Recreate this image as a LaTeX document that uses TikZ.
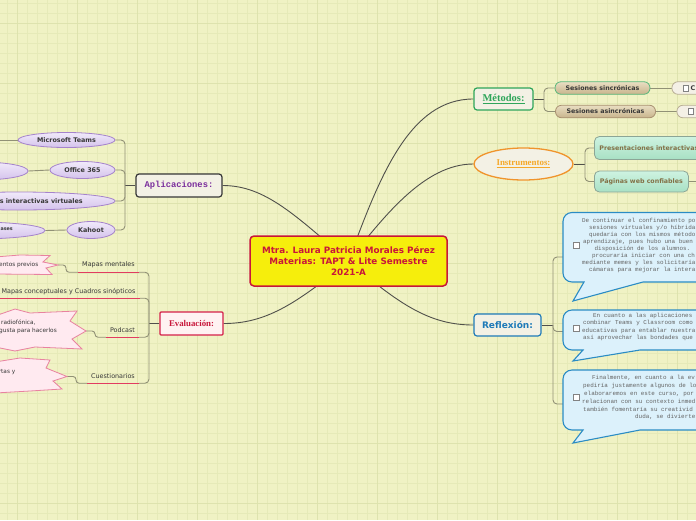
\documentclass[tikz,border=0pt]{standalone}
\usepackage{fontspec}
\setmainfont{Liberation Serif}
\newfontfamily\dv{DejaVu Sans}
\newfontfamily\lmono{Liberation Mono}
\usetikzlibrary{shapes.geometric}
\pgfdeclarelayer{gridl}
\pgfdeclarelayer{conl}
\pgfsetlayers{gridl,conl,main}
\definecolor{bgc}{RGB}{240,242,196}
\definecolor{gmin}{RGB}{230,234,184}
\definecolor{gmaj}{RGB}{222,227,174}
\definecolor{crim}{RGB}{200,22,58}
\definecolor{rootfill}{RGB}{246,238,12}
\definecolor{panel}{RGB}{243,241,229}
\definecolor{metgreen}{RGB}{46,165,90}
\definecolor{insor}{RGB}{240,148,44}
\definecolor{instext}{RGB}{245,168,40}
\definecolor{refblue}{RGB}{30,122,184}
\definecolor{apppurple}{RGB}{122,46,156}
\definecolor{evred}{RGB}{212,32,74}
\definecolor{evfill}{RGB}{255,242,242}
\definecolor{mconn}{RGB}{80,80,75}
\definecolor{sconn}{RGB}{145,145,118}
\definecolor{lavtop}{RGB}{241,234,250}
\definecolor{lavbot}{RGB}{212,194,236}
\definecolor{lavdraw}{RGB}{165,131,204}
\definecolor{tantop}{RGB}{233,222,194}
\definecolor{tanbot}{RGB}{200,180,140}
\definecolor{tandraw}{RGB}{168,144,112}
\definecolor{mintop}{RGB}{206,243,225}
\definecolor{minbot}{RGB}{168,224,196}
\definecolor{mindraw}{RGB}{140,165,150}
\definecolor{minttext}{RGB}{130,112,70}
\definecolor{pinkfill}{RGB}{255,234,240}
\definecolor{pinkdraw}{RGB}{232,130,160}
\definecolor{calfill}{RGB}{220,241,251}
\definecolor{caldraw}{RGB}{43,140,196}
\definecolor{caltext}{RGB}{100,100,100}
\definecolor{under}{RGB}{226,60,96}
\definecolor{darktext}{RGB}{55,55,55}
\definecolor{chkdraw}{RGB}{130,130,130}
\definecolor{boxfill}{RGB}{244,240,230}
\definecolor{boxdraw}{RGB}{184,174,148}
\tikzset{
  rootbox/.style={draw=crim, line width=1.5pt, fill=rootfill, rounded corners=4pt,
    minimum width=197pt, minimum height=50pt, align=center, text=crim,
    font=\dv\bfseries\fontsize{8.8}{11}\selectfont, inner sep=2pt},
  topic/.style={fill=panel, rounded corners=3pt, line width=1.2pt, minimum height=22pt, inner sep=1pt},
  pill/.style={rounded corners=6pt, top color=tantop, bottom color=tanbot, line width=0.8pt,
    minimum height=12.5pt, inner sep=1pt, font=\dv\bfseries\fontsize{6.3}{7}\selectfont, text=darktext},
  chbox/.style={rounded corners=6pt, fill=boxfill, draw=boxdraw, line width=0.8pt, minimum height=12.5pt, inner sep=0pt},
  chk/.style={draw=chkdraw, fill=white, line width=0.6pt},
  mint/.style={rounded corners=5pt, top color=mintop, bottom color=minbot, draw=mindraw, line width=0.8pt,
    inner xsep=5pt, inner ysep=1pt, align=left, text=minttext, font=\dv\bfseries\fontsize{6.3}{7}\selectfont},
  lav/.style={ellipse, top color=lavtop, bottom color=lavbot, draw=lavdraw, line width=0.8pt, inner sep=0pt,
    text=darktext, font=\dv\bfseries\fontsize{6.4}{7}\selectfont},
  lavtxt/.style={inner sep=0pt, text=darktext, font=\dv\bfseries\fontsize{6.4}{7}\selectfont},
  evt/.style={inner sep=0pt, minimum height=13pt, text=darktext, font=\dv\fontsize{6.4}{7}\selectfont},
  underl/.style={draw=under, line width=1pt},
  burst/.style={fill=pinkfill, draw=pinkdraw, line width=0.8pt},
  btxt/.style={inner sep=0pt, text=darktext, font=\dv\fontsize{5.8}{6}\selectfont},
  callout/.style={fill=calfill, draw=caldraw, line width=1.1pt},
  ct/.style={inner sep=0pt, anchor=west, text=caltext, font=\lmono\fontsize{5.9}{7}\selectfont},
  mainc/.style={draw=mconn, line width=0.9pt},
  subc/.style={draw=sconn, line width=0.9pt, rounded corners=4pt}
}
\begin{document}
\begin{tikzpicture}[x=1pt,y=-1pt]
\useasboundingbox (0,0) rectangle (696,520);
\begin{pgfonlayer}{gridl}
\fill[bgc] (0,0) rectangle (696,520);
\foreach \i in {0,...,69} \draw[gmin, line width=0.8pt] ({7.3+10*\i},0) -- ++(0,520);
\foreach \i in {0,...,51} \draw[gmin, line width=0.8pt] (0,{3.3+10*\i}) -- ++(696,0);
\foreach \i in {0,...,11} \draw[gmaj, line width=1.1pt] ({17.3+60*\i},0) -- ++(0,520);
\foreach \i in {0,...,8} \draw[gmaj, line width=1.1pt] (0,{23.3+60*\i}) -- ++(696,0);
\end{pgfonlayer}

% root
\node[rootbox] (root) at (348.5,261) {Mtra. Laura Patricia Morales Pérez\\Materias: TAPT \& Lite Semestre\\2021-A};

% Metodos
\node[topic, draw=metgreen, minimum width=59pt, text=metgreen, font=\bfseries\fontsize{10.5}{12}\selectfont] (met) at (503.5,99) {\underline{Métodos:}};
\node[pill, draw=metgreen!80, minimum width=95pt] (s1) at (602.5,88) {Sesiones sincrónicas};
\node[pill, draw=tandraw, minimum width=100pt] (s2) at (605.5,111.5) {Sesiones asincrónicas};
\node[chbox, anchor=west, minimum width=40pt] (sc1) at (671.5,88) {};
\node[chbox, anchor=west, minimum width=40pt] (sc2) at (676.5,111.5) {};
\draw[chk] (683.5,85) rectangle (688.5,91);
\node[inner sep=0pt, anchor=west, text=darktext, font=\dv\bfseries\fontsize{6.4}{7}\selectfont] (sc1t) at (690.5,88) {C};
\draw[chk] (688.5,108.5) rectangle (693.5,114.5);

% Instrumentos
\node[ellipse, fill=panel, draw=insor, line width=1.3pt, minimum width=99pt, minimum height=32pt, inner sep=0pt,
  text=instext, font=\bfseries\fontsize{8.9}{10}\selectfont] (ins) at (523.5,164) {\underline{Instrumentos:}};
\node[mint, anchor=west, minimum width=130pt, minimum height=23pt, text width=120pt] (pres) at (594,148) {Presentaciones interactivas};
\node[mint, anchor=west, minimum width=94pt, minimum height=21pt, inner xsep=4.5pt] (pag) at (594,181.5) {Páginas web confiables};
\coordinate (pagc) at (702,181.5);

% Reflexion
\node[topic, draw=refblue, minimum width=67pt, text=refblue, font=\dv\bfseries\fontsize{9}{10}\selectfont] (ref) at (507.5,325) {Reflexión:};

\draw[callout] (563,240) [rounded corners=9pt] -- (563,212.5) -- (740,212.5) -- (740,282) [sharp corners] -- (643,282) -- (573,301) -- (584,282) [rounded corners=9pt] -- (563,282) -- cycle;
\draw[callout] (563,330) [rounded corners=9pt] -- (563,310) -- (740,310) -- (740,350) [sharp corners] -- (640,350) -- (573,361) -- (583,350) [rounded corners=9pt] -- (563,350) -- cycle;
\draw[callout] (563,400) [rounded corners=9pt] -- (563,370) -- (740,370) -- (740,430) [sharp corners] -- (640,430) -- (573,443) -- (583,430) [rounded corners=9pt] -- (563,430) -- cycle;
\coordinate (c1) at (563,257);
\coordinate (c2) at (563,331.5);
\coordinate (c3) at (563,404);
\draw[chk] (573.5,242.5) rectangle (579.5,248.5);
\draw[chk] (573.5,325.3) rectangle (579.5,331.3);
\draw[chk] (573.5,394) rectangle (579.5,400);

\node[ct] (r1a) at (582,220.7) {De continuar el confinamiento po};
\node[ct] (r1b) at (589,227.8) {sesiones virtuales y/o híbrida};
\node[ct] (r1c) at (589,234.9) {quedaría con los mismos método};
\node[ct] (r1d) at (583,242) {aprendizaje, pues hubo una buen};
\node[ct] (r1e) at (594.5,249.1) {disposición de los alumnos.};
\node[ct] (r1f) at (592,256.2) {procuraría iniciar con una ch};
\node[ct] (r1g) at (582,263.3) {mediante memes y les solicitaría};
\node[ct] (r1h) at (589,270.4) {cámaras para mejorar la intera};

\node[ct] (r2a) at (593,316) {En cuanto a las aplicaciones};
\node[ct] (r2b) at (583,323.3) {combinar Teams y Classroom como};
\node[ct] (r2c) at (582,331) {educativas para entablar nuestra};
\node[ct] (r2d) at (583,338.3) {así aprovechar las bondades que};

\node[ct] (r3a) at (592,378) {Finalmente, en cuanto a la ev};
\node[ct] (r3b) at (583,386) {pediría justamente algunos de lo};
\node[ct] (r3c) at (584,394) {elaboraremos en este curso, por};
\node[ct] (r3d) at (582,401.7) {relacionan con su contexto inmed};
\node[ct] (r3e) at (583,409.3) {también fomentaría su creativid};
\node[ct] (r3f) at (635,416.7) {duda, se divierte};

% Aplicaciones
\node[topic, draw=darktext, minimum width=86pt, minimum height=23pt, text=apppurple,
  font=\lmono\bfseries\fontsize{8.8}{10}\selectfont] (apl) at (179,185.5) {Aplicaciones:};
\node[lav, minimum width=97pt, minimum height=15pt] (teams) at (66.5,140) {Microsoft Teams};
\node[lav, minimum width=65pt, minimum height=17pt] (office) at (82.5,170) {Office 365};
\node[lav, minimum width=192pt, minimum height=18pt] (inter) at (19,201) {};
\node[lavtxt, anchor=east] (intert) at (83,201) {s interactivas virtuales};
\node[lav, minimum width=48pt, minimum height=17pt] (kahoot) at (91,230) {Kahoot};
\node[lav, minimum width=96pt, minimum height=18pt] (offc) at (-20,171) {};
\node[lav, minimum width=140pt, minimum height=17pt] (kahc) at (-25,230.5) {};
\node[lavtxt, anchor=east, font=\dv\bfseries\fontsize{4.8}{5}\selectfont] (kahct) at (13,229.5) {ases};
\coordinate (teamsc) at (-6,140);

% Evaluacion
\node[topic, rounded corners=1pt, fill=evfill, draw=evred, line width=1.4pt, minimum width=63pt, minimum height=23pt,
  text=crim, font=\bfseries\fontsize{8.8}{10}\selectfont] (eval) at (191.5,323.5) {Evaluación:};
\node[evt, minimum width=61pt, minimum height=14pt] (mm) at (108.5,265) {Mapas mentales};
\node[evt, minimum width=143pt, font=\dv\fontsize{6.4}{7}\selectfont] (mc) at (68.5,291.5) {Mapas conceptuales y Cuadros sinópticos};
\node[evt, minimum width=33pt] (pod) at (122.5,330.5) {Podcast};
\node[evt, minimum width=52pt] (cue) at (113,376.5) {Cuestionarios};
\draw[underl] (mm.south west) -- (mm.south east);
\draw[underl] (mc.south west) -- (mc.south east);
\draw[underl] (pod.south west) -- (pod.south east);
\draw[underl] (cue.south west) -- (cue.south east);

\draw[burst] (-5,257) -- (20,255) -- (50,255.5) -- (43,262) -- (58,265) -- (46,268) -- (52,274.5) -- (-5,274) -- cycle;
\coordinate (b1) at (58,265);
\draw[burst] (-5,316) -- (15,309) -- (30,313) -- (77,311) -- (70,321) -- (86,331) -- (72,339) -- (82,349) -- (35,347) -- (15,351) -- (-5,347) -- cycle;
\coordinate (b2) at (86,331);
\draw[burst] (-5,362) -- (20,358) -- (50,360) -- (46,368) -- (67,376.5) -- (53,381) -- (62,389) -- (30,391) -- (-5,393) -- cycle;
\coordinate (b3) at (67,376.5);
\node[btxt, anchor=east] (b1t) at (38.5,265) {entos previos};
\node[btxt, anchor=west] (b2t) at (1,323) {radiofónica,};
\node[btxt, anchor=east] (b2u) at (57,331) {gusta para hacerlos};
\node[btxt, anchor=east] (b3t) at (15.5,372) {rtas y};

% junctions
\coordinate (jm) at (544,99);
\coordinate (ji) at (585,164);
\coordinate (jr) at (553,325);
\coordinate (ja) at (125,185.5);
\coordinate (je) at (149,323.5);

\begin{pgfonlayer}{conl}
\draw[mainc] (root.center) .. controls (380,175) and (410,99) .. (met.west);
\draw[mainc] (root.center) .. controls (385,215) and (425,164) .. (ins.west);
\draw[mainc] (root.center) .. controls (400,305) and (430,325) .. (ref.west);
\draw[mainc] (root.center) .. controls (295,215) and (265,185.5) .. (apl.east);
\draw[mainc] (root.center) .. controls (295,305) and (265,323.5) .. (eval.east);

\draw[mainc] (met.east) -- (jm);
\draw[subc] (s1.west) -| (jm);
\draw[subc] (s2.west) -| (jm);
\draw[subc] (s1.east) -- (sc1.west);
\draw[subc] (s2.east) -- (sc2.west);

\draw[mainc] (ins.east) -- (ji);
\draw[subc] (pres.west) -| (ji);
\draw[subc] (pag.west) -| (ji);
\draw[subc] (pag.east) -- (pagc);

\draw[mainc] (ref.east) -- (jr);
\draw[subc] (c1) -| (jr);
\draw[subc] (c2) -| (jr);
\draw[subc] (c3) -| (jr);

\draw[mainc] (apl.west) -- (ja);
\draw[subc] (teams.east) -| (ja);
\draw[subc] (office.east) -| (ja);
\draw[subc] (inter.east) -| (ja);
\draw[subc] (kahoot.east) -| (ja);
\draw[subc] (teams.west) -- (teamsc);
\draw[subc] (office.west) -- (offc.east);
\draw[subc] (kahoot.west) -- (kahc.east);

\draw[mainc] (eval.west) -- (je);
\draw[subc] (mm.south east) -| (je);
\draw[subc] (mc.south east) -| (je);
\draw[subc] (pod.south east) -| (je);
\draw[subc] (cue.south east) -| (je);
\draw[subc, rounded corners=3pt] (b1) -- (66,265) |- (mm.south west);
\draw[subc, rounded corners=3pt] (b2) -- (95,331) |- (pod.south west);
\draw[subc, rounded corners=3pt] (b3) -- (76,376.5) |- (cue.south west);
\end{pgfonlayer}
\end{tikzpicture}
\end{document}
